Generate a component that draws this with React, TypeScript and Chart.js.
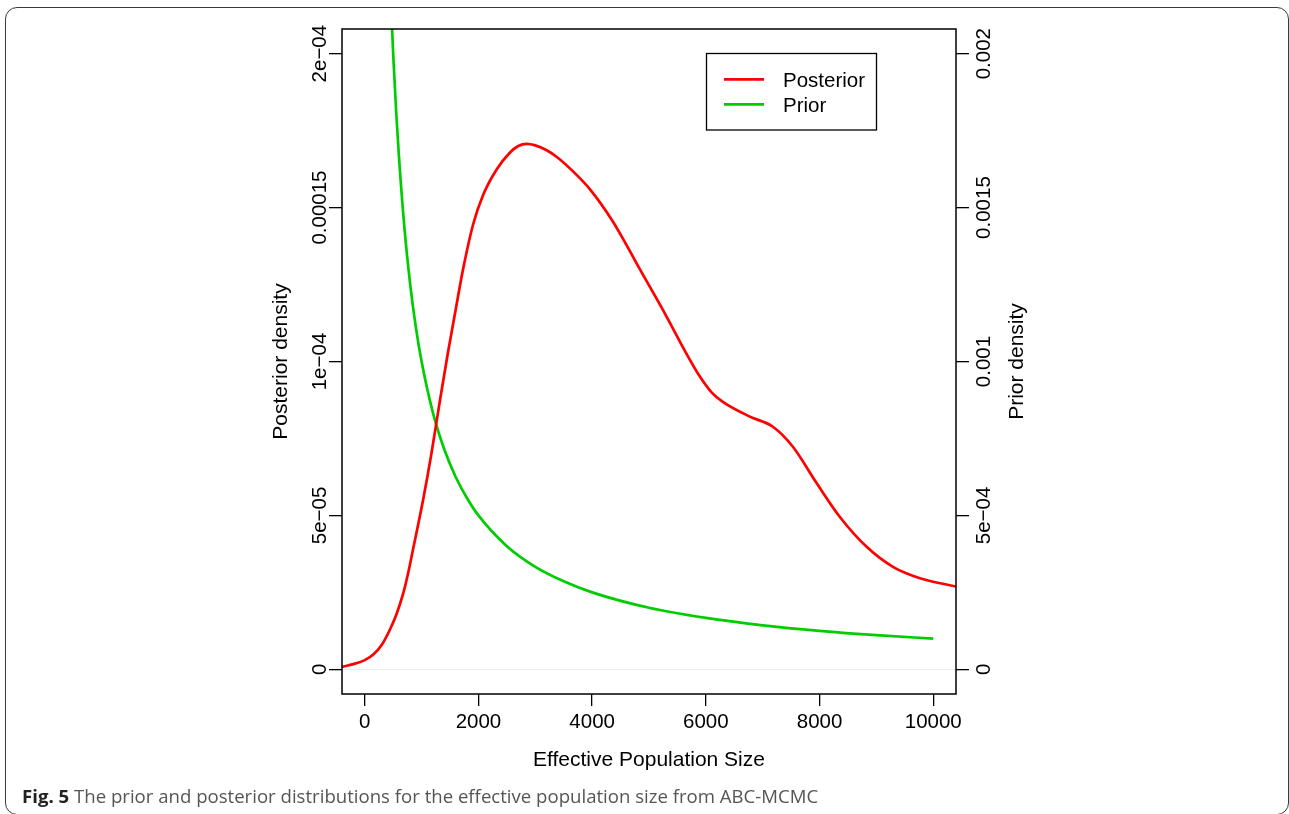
import React, { useEffect, useRef } from 'react';
import { Chart, registerables } from 'chart.js';

Chart.register(...registerables);

// ---- Data ----
const posteriorX = [-400, -200, 0, 150, 300, 440, 560, 674, 760, 850, 1026, 1174, 1320, 1460, 1601, 1730, 1906, 2082, 2317, 2551, 2700, 2850, 3000, 3200, 3373, 3650, 3959, 4364, 4605, 4839, 5309, 5600, 5895, 6100, 6299, 6774, 7179, 7531, 7948, 8358, 8828, 9291, 9766, 10400];
const posteriorY = [0.8e-6, 1.7e-6, 3.0e-6, 4.8e-6, 8.0e-6, 12.8e-6, 18.0e-6, 24.5e-6, 31.0e-6, 39.0e-6, 55.0e-6, 70.2e-6, 87.0e-6, 102.5e-6, 117.0e-6, 130.0e-6, 144.5e-6, 154.1e-6, 162.3e-6, 167.8e-6, 170.0e-6, 170.7e-6, 170.2e-6, 168.6e-6, 166.5e-6, 162.0e-6, 156.0e-6, 145.5e-6, 137.8e-6, 130.0e-6, 114.6e-6, 104.5e-6, 95.1e-6, 90.0e-6, 86.9e-6, 82.1e-6, 78.8e-6, 72.3e-6, 60.5e-6, 49.5e-6, 39.8e-6, 33.3e-6, 29.6e-6, 26.9e-6];

const priorX = [470, 500, 550, 600, 700, 800, 900, 1000, 1200, 1400, 1600, 1800, 2000, 2500, 3000, 3500, 4000, 5000, 6000, 7000, 8000, 9000, 10000];
const priorY = [0.00213, 0.00200, 0.00182, 0.00167, 0.00143, 0.00125, 0.00111, 0.00100, 0.000833, 0.000714, 0.000625, 0.000556, 0.000500, 0.000400, 0.000333, 0.000286, 0.000250, 0.000200, 0.000167, 0.000143, 0.000125, 0.000111, 0.000100];

const xTicks = [0, 2000, 4000, 6000, 8000, 10000];
const xTickLabels = ['0', '2000', '4000', '6000', '8000', '10000'];
const leftTicks = [0, 5e-5, 1e-4, 1.5e-4, 2e-4];
const leftTickLabels = ['0', '5e\u221205', '1e\u221204', '0.00015', '2e\u221204'];
const rightTicks = [0, 5e-4, 1e-3, 1.5e-3, 2e-3];
const rightTickLabels = ['0', '5e\u221204', '0.001', '0.0015', '0.002'];

const seriesNames = ['Posterior', 'Prior'];
const seriesColors = ['#FF0000', '#00CD00'];

const xTitle = 'Effective Population Size';
const leftTitle = 'Posterior density';
const rightTitle = 'Prior density';

const FONT = '"Liberation Sans", Arial, Helvetica, sans-serif';

const framePlugin = {
  id: 'rframe',
  beforeDatasetsDraw(chart: any) {
    const { ctx, chartArea } = chart;
    const y0 = chart.scales.y.getPixelForValue(0);
    ctx.save();
    ctx.strokeStyle = '#ececec';
    ctx.lineWidth = 1;
    ctx.beginPath();
    ctx.moveTo(chartArea.left, Math.round(y0) + 0.5);
    ctx.lineTo(chartArea.right, Math.round(y0) + 0.5);
    ctx.stroke();
    ctx.restore();
  },
  afterDraw(chart: any) {
    const { ctx, chartArea } = chart;
    const xs = chart.scales.x;
    const ys = chart.scales.y;
    const ys1 = chart.scales.y1;
    ctx.save();
    ctx.strokeStyle = '#000';
    ctx.lineWidth = 1.5;
    ctx.strokeRect(chartArea.left, chartArea.top, chartArea.right - chartArea.left, chartArea.bottom - chartArea.top);

    ctx.fillStyle = '#000';
    ctx.font = `20.5px ${FONT}`;
    ctx.textBaseline = 'alphabetic';
    ctx.textAlign = 'center';
    xTicks.forEach((v, i) => {
      ctx.fillText(xTickLabels[i], xs.getPixelForValue(v), 727.5);
    });
    leftTicks.forEach((v, i) => {
      ctx.save();
      ctx.translate(325.5, ys.getPixelForValue(v));
      ctx.rotate(-Math.PI / 2);
      ctx.fillText(leftTickLabels[i], 0, 0);
      ctx.restore();
    });
    rightTicks.forEach((v, i) => {
      ctx.save();
      ctx.translate(990, ys1.getPixelForValue(v));
      ctx.rotate(-Math.PI / 2);
      ctx.fillText(rightTickLabels[i], 0, 0);
      ctx.restore();
    });
    ctx.font = `21px ${FONT}`;
    const cx = (chartArea.left + chartArea.right) / 2;
    const cy = (chartArea.top + chartArea.bottom) / 2;
    ctx.fillText(xTitle, cx, 766);
    ctx.save();
    ctx.translate(287, cy);
    ctx.rotate(-Math.PI / 2);
    ctx.fillText(leftTitle, 0, 0);
    ctx.restore();
    ctx.save();
    ctx.translate(1023, cy);
    ctx.rotate(-Math.PI / 2);
    ctx.fillText(rightTitle, 0, 0);
    ctx.restore();

    // legend
    ctx.lineWidth = 1.3;
    ctx.strokeStyle = '#000';
    ctx.strokeRect(706.5, 53.5, 170, 76.5);
    ctx.font = `20.5px ${FONT}`;
    ctx.textAlign = 'left';
    const rowsY = [79.3, 104.3];
    seriesNames.forEach((name, i) => {
      ctx.strokeStyle = seriesColors[i];
      ctx.lineWidth = 2.7;
      ctx.beginPath();
      ctx.moveTo(724, rowsY[i]);
      ctx.lineTo(764, rowsY[i]);
      ctx.stroke();
      ctx.fillStyle = '#000';
      ctx.fillText(name, 783, rowsY[i] + 7.3);
    });
    ctx.restore();
  },
};

export default function App() {
  const canvasRef = useRef<HTMLCanvasElement | null>(null);

  useEffect(() => {
    const canvas = canvasRef.current;
    if (!canvas) return;
    const tickGrid = { drawOnChartArea: false, tickLength: 13, color: '#000', lineWidth: 1.3 };
    const chart = new Chart(canvas, {
      type: 'line',
      data: {
        datasets: [
          {
            label: seriesNames[0],
            data: posteriorX.map((x, i) => ({ x, y: posteriorY[i] })),
            borderColor: seriesColors[0],
            backgroundColor: seriesColors[0],
            borderWidth: 2.7,
            pointRadius: 0,
            cubicInterpolationMode: 'monotone',
            fill: false,
            yAxisID: 'y',
          },
          {
            label: seriesNames[1],
            data: priorX.map((x, i) => ({ x, y: priorY[i] })),
            borderColor: seriesColors[1],
            backgroundColor: seriesColors[1],
            borderWidth: 2.7,
            pointRadius: 0,
            cubicInterpolationMode: 'monotone',
            fill: false,
            yAxisID: 'y1',
          },
        ],
      },
      options: {
        animation: false,
        responsive: false,
        maintainAspectRatio: false,
        devicePixelRatio: 1,
        layout: { padding: { left: 322, right: 313, top: 29, bottom: 100 } },
        plugins: { legend: { display: false }, tooltip: { enabled: false } },
        scales: {
          x: {
            type: 'linear',
            min: -400,
            max: 10400,
            afterBuildTicks: (s: any) => { s.ticks = xTicks.map((v) => ({ value: v })); },
            afterFit: (s: any) => { s.height = 20; },
            ticks: { display: false },
            grid: { ...tickGrid, tickLength: 12 },
            border: { display: false },
          },
          y: {
            type: 'linear',
            position: 'left',
            min: -8e-6,
            max: 2.08e-4,
            afterBuildTicks: (s: any) => { s.ticks = leftTicks.map((v) => ({ value: v })); },
            afterFit: (s: any) => { s.width = 20; },
            ticks: { display: false },
            grid: tickGrid,
            border: { display: false },
          },
          y1: {
            type: 'linear',
            position: 'right',
            min: -8e-5,
            max: 2.08e-3,
            afterBuildTicks: (s: any) => { s.ticks = rightTicks.map((v) => ({ value: v })); },
            afterFit: (s: any) => { s.width = 20; },
            ticks: { display: false },
            grid: tickGrid,
            border: { display: false },
          },
        },
      } as any,
      plugins: [framePlugin],
    });
    return () => chart.destroy();
  }, []);

  return (
    <div style={{ position: 'fixed', left: 0, top: 0, width: 1289, height: 814, overflow: 'hidden', background: '#fff' }}>
      <div
        style={{
          position: 'absolute',
          left: 5,
          top: 7,
          width: 1284,
          height: 808,
          boxSizing: 'border-box',
          border: '1.5px solid #3a3a3a',
          borderRadius: 12,
        }}
      />
      <canvas ref={canvasRef} width={1289} height={814} style={{ position: 'absolute', left: 0, top: 0, width: 1289, height: 814 }} />
      <div
        style={{
          position: 'absolute',
          left: 22,
          top: 784,
          font: '18.6px "Open Sans", "Noto Sans", sans-serif',
          lineHeight: '24px',
          color: '#555',
          whiteSpace: 'nowrap',
        }}
      >
        <b style={{ color: '#222' }}>Fig. 5</b> The prior and posterior distributions for the effective population size from ABC-MCMC
      </div>
    </div>
  );
}
